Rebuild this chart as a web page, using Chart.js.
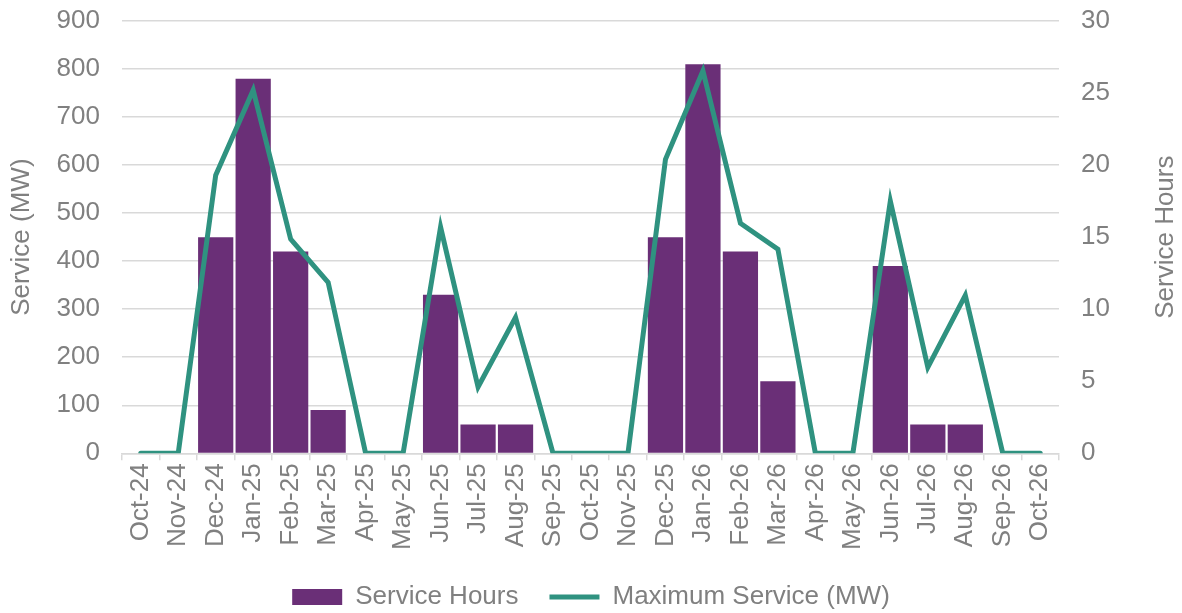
<!DOCTYPE html>
<html>
<head>
<meta charset="utf-8">
<script src="https://cdn.jsdelivr.net/npm/chart.js@4.4.0/dist/chart.umd.min.js"></script>
<style>
  html, body { margin: 0; padding: 0; background: #ffffff; }
  #wrap { width: 1182px; height: 613px; }
</style>
</head>
<body>
<div id="wrap"><canvas id="grafico"></canvas></div>
<script>
"use strict";

// ============================================================
// DATI
// ============================================================
const mesi = [
    "Oct-24", "Nov-24", "Dec-24", "Jan-25", "Feb-25", "Mar-25", "Apr-25",
    "May-25", "Jun-25", "Jul-25", "Aug-25", "Sep-25", "Oct-25", "Nov-25",
    "Dec-25", "Jan-26", "Feb-26", "Mar-26", "Apr-26", "May-26", "Jun-26",
    "Jul-26", "Aug-26", "Sep-26", "Oct-26"
];

// ore di servizio (asse destro)
const oreServizio = [
    0, 0, 15, 26, 14, 3, 0,
    0, 11, 2, 2, 0, 0, 0,
    15, 27, 14, 5, 0, 0, 13,
    2, 2, 0, 0
];

// servizio massimo in MW (asse sinistro)
const servizioMax = [
    0, 0, 579, 756, 446, 356, 0,
    0, 471, 138, 283, 0, 0, 0,
    612, 796, 479, 425, 0, 0, 525,
    179, 329, 0, 0
];

const labelSerie = ["Service Hours", "Maximum Service (MW)"];
const titoloSx = "Service (MW)";
const titoloDx = "Service Hours";

// ============================================================
// STILE
// ============================================================
const FONT = "'Liberation Sans', Arial, sans-serif";
const GRIGIO = "#808080";
const GRIGLIA = "#d9d9d9";
const VIOLA = "#6a2f77";
const VERDE = "#2f9280";

// titolo dell'asse destro: letto dal basso verso l'alto come quello sinistro
const titoloDestro = {
    id: "titoloDestro",
    afterDraw(chart) {
        const area = chart.chartArea;
        const ctx = chart.ctx;
        ctx.save();
        ctx.translate(1166, (area.top + area.bottom) / 2);
        ctx.rotate(-Math.PI / 2);
        ctx.font = "26px " + FONT;
        ctx.fillStyle = GRIGIO;
        ctx.textAlign = "center";
        ctx.textBaseline = "middle";
        ctx.fillText(titoloDx, 0, 0);
        ctx.restore();
    }
};

new Chart(document.getElementById("grafico"), {
    data: {
        labels: mesi,
        datasets: [
            {
                type: "bar",
                label: labelSerie[0],
                data: oreServizio,
                yAxisID: "y1",
                backgroundColor: VIOLA,
                barPercentage: 0.94,
                categoryPercentage: 1,
                pointStyle: "rect",
                order: 1
            },
            {
                type: "line",
                label: labelSerie[1],
                data: servizioMax,
                yAxisID: "y",
                borderColor: VERDE,
                backgroundColor: VERDE,
                borderWidth: 5,
                pointRadius: 0,
                tension: 0,
                borderCapStyle: "round",
                pointStyle: "line",
                order: 0
            }
        ]
    },
    options: {
        responsive: true,
        maintainAspectRatio: false,
        animation: false,
        layout: { padding: { top: 21, bottom: -7, left: 0, right: 0 } },
        plugins: {
            legend: {
                position: "bottom",
                labels: {
                    usePointStyle: true,
                    pointStyleWidth: 50,
                    boxHeight: 16,
                    padding: 31,
                    color: GRIGIO,
                    font: { family: FONT, size: 26 },
                    sort: (a, b) => a.datasetIndex - b.datasetIndex
                }
            },
            tooltip: { enabled: false }
        },
        scales: {
            x: {
                offset: true,
                grid: {
                    offset: true,
                    drawOnChartArea: false,
                    drawTicks: true,
                    tickLength: 7,
                    color: GRIGLIA,
                    lineWidth: 1.5
                },
                border: { color: GRIGLIA, width: 1.5 },
                ticks: {
                    color: GRIGIO,
                    font: { family: FONT, size: 26 },
                    minRotation: 90,
                    maxRotation: 90,
                    autoSkip: false,
                    padding: 3
                }
            },
            y: {
                position: "left",
                min: 0,
                max: 900,
                ticks: {
                    stepSize: 100,
                    color: GRIGIO,
                    font: { family: FONT, size: 26 },
                    padding: 0
                },
                // tacche invisibili: servono solo a distanziare le etichette
                grid: {
                    color: GRIGLIA,
                    lineWidth: 1.5,
                    drawTicks: true,
                    tickLength: 22,
                    tickColor: "transparent"
                },
                border: { display: false },
                title: {
                    display: true,
                    text: titoloSx,
                    color: GRIGIO,
                    font: { family: FONT, size: 26 },
                    padding: { top: 6, bottom: 0 }
                },
                afterFit(scale) { scale.width = 122; }
            },
            y1: {
                position: "right",
                min: 0,
                max: 30,
                ticks: {
                    stepSize: 5,
                    color: GRIGIO,
                    font: { family: FONT, size: 26 },
                    padding: 0
                },
                grid: {
                    drawOnChartArea: false,
                    drawTicks: true,
                    tickLength: 22,
                    tickColor: "transparent"
                },
                border: { display: false },
                afterFit(scale) { scale.width = 123; }
            }
        }
    },
    plugins: [titoloDestro]
});
</script>
</body>
</html>
